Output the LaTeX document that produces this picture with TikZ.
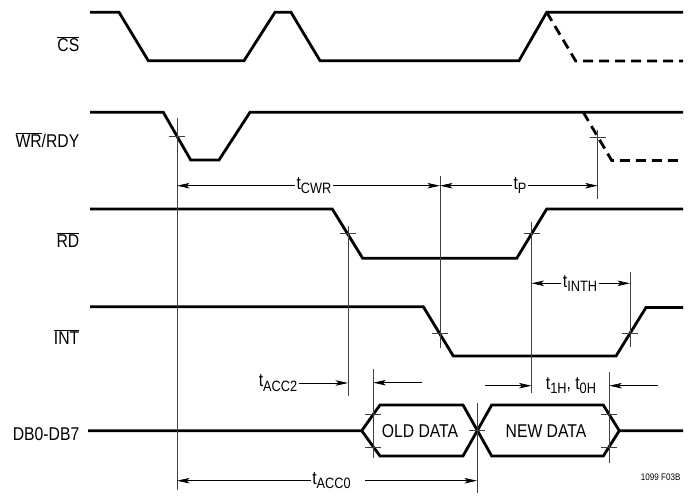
\documentclass[tikz,border=0pt]{standalone}
\usepackage{fontspec}
\setmainfont{Liberation Sans}[FakeStretch=0.85]
\usetikzlibrary{positioning,arrows.meta}

\newcommand{\tsub}[1]{t\raisebox{-0.45ex}{\fontsize{15}{15}\selectfont #1}}
\newcommand{\ovl}[1]{$\overline{\mbox{#1}}$}

\begin{document}
\begin{tikzpicture}[x=1pt,y=-1pt,
	every node/.style={font=\fontsize{18.5}{18.5}\selectfont,inner sep=1.5pt},
	sig/.style={line width=2.8pt,line join=miter},
	float/.style={sig,dash pattern=on 10pt off 6pt},
	ref/.style={line width=0.6pt,black!75},
	dim/.style={line width=0.8pt,-{Stealth[length=12.5pt,width=5.5pt,inset=3pt]}}]
\useasboundingbox (0,0) rectangle (693,495);

% signal names
\foreach \n/\y/\t in {cs/44/\ovl{CS},wr/140/{\ovl{WR}/RDY},rd/240/\ovl{RD},int/337/\ovl{INT},db/434/DB0-DB7}
	\node[anchor=east] (\n) at (81,\y) {\t};

% waveforms
\draw[sig](90,12.3)--(119,12.3)--(148.3,60.7)--(244,60.7)--(275,12.3)--(291,12.3)--(320,60.7)--(519,60.7)--(546.7,12.3)--(683,12.3);
\draw[float](546.7,12.3)--(575.7,61)--(683,61);
\draw[sig](90,112.3)--(163.3,112.3)--(190.7,160)--(219,160)--(250,112.3)--(683,112.3);
\draw[float](583.3,112.3)--(611.7,160.5)--(683,160.5);
\draw[sig](90,209)--(332.3,209)--(362.7,258.3)--(516.7,258.3)--(546.7,209)--(683,209);
\draw[sig](90,306.7)--(423.3,306.7)--(453.3,356)--(616,356)--(646,307.5)--(683,307.5);
\draw[sig](88,430.7)--(361.7,430.7)--(380,405)--(463,405)--(491.7,456)--(603.3,456)--(619.3,430.7)--(683,430.7);
\draw[sig](361.7,430.7)--(380,456)--(463,456)--(491.7,405)--(603.3,405)--(619.3,430.7);
\node (old) at (420,431) {OLD DATA};
\node (new) at (546,431) {NEW DATA};

% reference lines and crossing marks
\foreach \x/\a/\b in {177/118/490,440/176/348,597.7/130/199,348/226/396,531.5/222/393,630/272/347,373.3/369/458,477/403/493,609.3/372/463}
	\draw[ref](\x,\a)--(\x,\b);
\foreach \x/\y in {177/136,597.7/137.3,348/233.5,531.5/233,440/333,630/333,373.3/414,373.3/447.5,477/430.5,609.3/414,609.3/447.5}
	\draw[ref](\x-8,\y)--(\x+8,\y);

% timing labels
\node (tcwr) at (314,185.7) {\tsub{CWR}};
\node (tp) at (520,185.7) {\tsub{P}};
\node (tinth) at (580,283.3) {\tsub{INTH}};
\node (tacc2) at (278,383) {\tsub{ACC2}};
\node (th) at (571,385.7) {\tsub{1H}, \tsub{0H}};
\node (tacc0) at (331.5,480.7) {\tsub{ACC0}};
\node[font=\fontsize{9.5}{9.5}\selectfont] (fig) at (660.7,477.3) {1099 F03B};

\coordinate (cwrL) at (177,185.7);
\coordinate (cwrR) at (440,185.7);
\coordinate (pL) at (440,185.7);
\coordinate (pR) at (597.7,185.7);
\coordinate (inthL) at (531.5,283.3);
\coordinate (inthR) at (630,283.3);
\coordinate (acc2R) at (348,383);
\coordinate (acc2a) at (421.7,382.7);
\coordinate (acc2b) at (373.3,382.7);
\coordinate (ha) at (485,385.7);
\coordinate (hb) at (531.5,385.7);
\coordinate (hc) at (658,385.7);
\coordinate (hd) at (609.3,385.7);
\coordinate (acc0L) at (177,480.7);
\coordinate (acc0a) at (365,480.7);
\coordinate (acc0R) at (477,480.7);

\foreach \a/\b in {tcwr/cwrL,tcwr/cwrR,tp/pL,tp/pR,tinth/inthL,tinth/inthR,tacc2/acc2R,acc2a/acc2b,ha/hb,hc/hd,tacc0/acc0L,acc0a/acc0R}
	\draw[dim](\a)--(\b);

\end{tikzpicture}
\end{document}
